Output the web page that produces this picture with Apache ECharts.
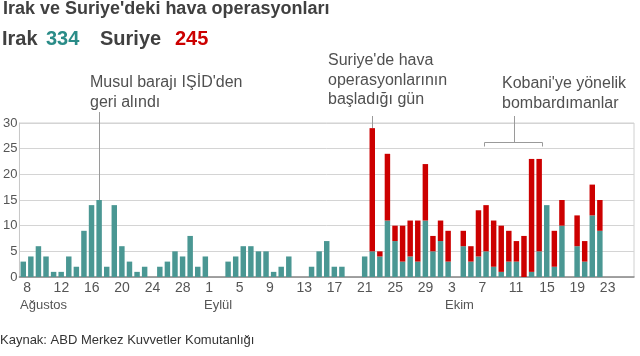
<!DOCTYPE html>
<html><head><meta charset="utf-8">
<script src="https://cdn.jsdelivr.net/npm/echarts@6/dist/echarts.min.js"></script>
<style>html,body{margin:0;padding:0;background:#fff}#c{width:640px;height:356px}</style>
</head><body><div id="c"></div>
<script>
// Days from 8 Aug to 27 Oct 2014
const days = [
 '8','9','10','11','12','13','14','15','16','17','18','19','20','21','22','23','24','25','26','27','28','29','30','31',
 '1','2','3','4','5','6','7','8','9','10','11','12','13','14','15','16','17','18','19','20','21','22','23','24','25','26','27','28','29','30',
 '1','2','3','4','5','6','7','8','9','10','11','12','13','14','15','16','17','18','19','20','21','22','23','24','25','26','27'
];
const iraq = [
 3,4,6,4,1,1,4,2,9,14,15,2,14,6,3,1,2,0,2,3,5,4,8,2,
 4,0,0,3,4,6,6,5,5,1,2,4,0,0,2,5,7,2,2,0,0,4,5,4,11,7,3,4,3,11,
 5,7,3,0,6,3,4,5,2,1,3,3,0,1,5,14,2,10,0,6,3,12,9,0,0,0,0
];
const syria = [
 0,0,0,0,0,0,0,0,0,0,0,0,0,0,0,0,0,0,0,0,0,0,0,0,
 0,0,0,0,0,0,0,0,0,0,0,0,0,0,0,0,0,0,0,0,0,0,24,1,13,3,7,7,8,11,
 3,4,6,0,3,3,9,9,9,9,6,4,8,22,18,0,7,5,0,6,4,6,6,0,0,0,0
];
const yTicks = [0,5,10,15,20,25,30];
const months = [{name:'Ağustos', x:20}, {name:'Eylül', x:204}, {name:'Ekim', x:445}];
const totals = {irak: '334', suriye: '245'};

const TEAL = '#4a9793', RED = '#cc0000', TXT = '#404040', SUB = '#505050';
const chart = echarts.init(document.getElementById('c'), null, {renderer:'canvas'});
const F = 'Liberation Sans, Arial, sans-serif';
chart.setOption({
  animation:false,
  textStyle:{fontFamily:F},
  grid:{left:19, right:6, top:123, bottom:79, show:true, borderColor:'#d0d0d0', borderWidth:1},
  xAxis:{type:'category', data:days, boundaryGap:true,
    axisLine:{lineStyle:{color:'#8a8a8a', width:1.5}}, axisTick:{show:false},
    axisLabel:{interval:(i)=> i%4===0 && i<=76, align:'left', margin:4, fontSize:14, color:'#555', fontFamily:F}},
  yAxis:{type:'value', min:0, max:30, interval:5,
    axisLine:{show:true, lineStyle:{color:'#c8c8c8'}}, axisTick:{show:false},
    splitLine:{lineStyle:{color:'#d4d4d4'}},
    axisLabel:{margin:2, fontSize:13, color:'#555', fontFamily:F, formatter:(v)=> yTicks.includes(v)? String(v):''}},
  series:[
    {name:'Irak', type:'bar', stack:'s', data:iraq, barCategoryGap:'28%', itemStyle:{color:TEAL}},
    {name:'Suriye', type:'bar', stack:'s', data:syria, barCategoryGap:'28%', itemStyle:{color:RED}}
  ]
});

function px(i, v){ return chart.convertToPixel({xAxisIndex:0, yAxisIndex:0}, [i, v]); }
function pxf(f, v){ const a = px(Math.floor(f), v), b = px(Math.floor(f)+1, v); const t = f-Math.floor(f); return [a[0]+(b[0]-a[0])*t, a[1]]; }
const g = [];
function txt(x, y, s, opt){ g.push({type:'text', left:x, top:y, silent:true, style:Object.assign({text:s, fill:SUB, font:'16px '+F}, opt||{})}); }
function line(x1,y1,x2,y2,c){ g.push({type:'line', silent:true, shape:{x1,y1,x2,y2}, style:{stroke:c||'#9a9a9a', lineWidth:1}}); }

// header
txt(3, 0, "Irak ve Suriye'deki hava operasyonları", {fill:TXT, font:'bold 18px '+F});
txt(2, 29, 'Irak', {fill:TXT, font:'bold 20px '+F});
txt(46, 29, totals.irak, {fill:'#2a8c88', font:'bold 20px '+F});
txt(100, 29, 'Suriye', {fill:TXT, font:'bold 20px '+F});
txt(175, 29, totals.suriye, {fill:RED, font:'bold 20px '+F});

// annotations
txt(90, 73, "Musul barajı IŞİD'den\ngeri alındı", {lineHeight:20});
const m = px(10, iraq[10]);
line(Math.round(m[0])+0.5, 112, Math.round(m[0])+0.5, m[1]);
txt(328, 51, "Suriye'de hava\noperasyonlarının\nbaşladığı gün", {lineHeight:19.5});
const s = px(46, iraq[46]+syria[46]);
line(Math.round(s[0])+0.5, 116, Math.round(s[0])+0.5, s[1]);
txt(502, 74, "Kobani'ye yönelik\nbombardımanlar", {lineHeight:20});
const k1 = pxf(60.7, 0), k2 = pxf(68.4, 0);
const bx1 = Math.round(k1[0])+0.5, bx2 = Math.round(k2[0])+0.5, by = 142.5, bm = Math.round((bx1+bx2)/2)+0.5;
line(bm, 116, bm, by);
line(bx1, by, bx2, by);
line(bx1, by, bx1, by+4);
line(bx2, by, bx2, by+4);

// months
months.forEach(mo => txt(mo.x, 299, mo.name, {fill:'#555', font:'13px '+F}));
// source
txt(0, 334, 'Kaynak: ABD Merkez Kuvvetler Komutanlığı', {fill:'#333', font:'13px '+F});

chart.setOption({graphic:g});
</script></body></html>
